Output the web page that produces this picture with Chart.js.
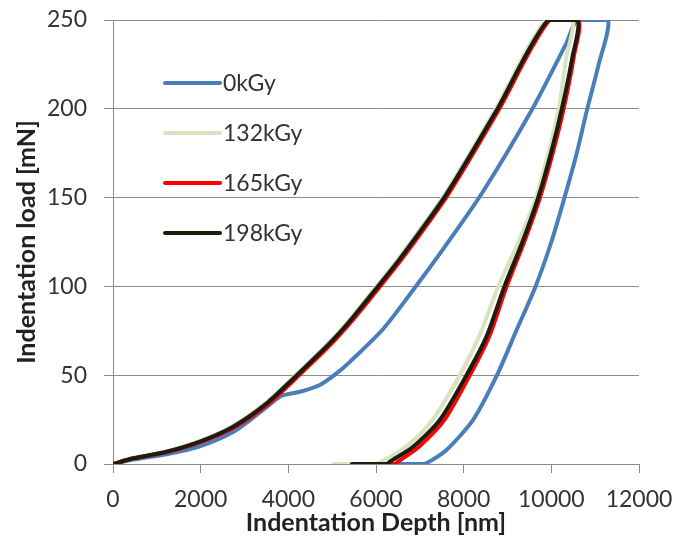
<!DOCTYPE html>
<html>
<head>
<meta charset="utf-8">
<script src="https://cdn.jsdelivr.net/npm/chart.js@4/dist/chart.umd.min.js"></script>
<style>
  html, body { margin:0; padding:0; background:#fff; }
  #wrap { width:688px; height:556px; }
</style>
</head>
<body>
<div id="wrap"><canvas id="chart" width="688" height="556"></canvas></div>
<script>
const seriesNames = ['0kGy', '132kGy', '165kGy', '198kGy'];
const seriesColors = ['#4a7ebb', '#d7e4bd', '#ff0000', '#1e1c11'];

const xTicks = [0, 2000, 4000, 6000, 8000, 10000, 12000];
const yTicks = [0, 50, 100, 150, 200, 250];

// loading -> hold at 250 mN -> unloading, depth in nm, load in mN
const depth0 = [0, 460, 1220, 1980, 2740, 3352, 3600, 3850, 4264, 4720, 5100, 5404, 6163, 6924, 7531, 8406, 9546, 10344, 10600,
                11290, 11080, 10820, 10580, 10300, 10000, 9640, 9200, 8760, 8215, 7608, 7152, 7050, 6400];
const load0  = [0, 2.5, 5.5, 10, 18, 29, 34, 38.5, 40.7, 44.5, 51, 57.5, 76, 100.5, 121, 152, 199, 237, 250,
                250, 225, 200, 175, 150, 125, 100, 75, 50, 24.8, 7.9, 0.4, 0, 0];

const depth132 = [0, 430, 1185, 1945, 2705, 3465, 4075, 4685, 4990, 5370, 5975, 6505, 7570, 8710, 9870,
                  10490, 10340, 10170, 9930, 9650, 9250, 8790, 8350, 7910, 7290, 6780, 6330, 6000, 5024];
const load132  = [0, 3.2, 6.9, 12.6, 21, 34, 48, 62.5, 70, 80.5, 99, 115.5, 152, 199, 250,
                  250, 229, 200, 175, 150, 125, 100, 71.7, 50, 24.8, 11.6, 4.1, 0, 0];

const depth165 = [0, 480, 1260, 2030, 2790, 3550, 4160, 4770, 5070, 5450, 6060, 6590, 7650, 8790, 9960,
                  10620, 10510, 10280, 10030, 9740, 9380, 8980, 8580, 8140, 7560, 6980, 6500, 6430, 5500];
const load165  = [0, 3.2, 6.9, 12.6, 21, 34, 48, 62.5, 70, 80.5, 99, 115.5, 152, 199, 250,
                  250, 229, 200, 175, 150, 125, 100, 71.7, 50, 24.8, 9.7, 1.3, 0, 0];

const depth198 = [0, 460, 1220, 1980, 2740, 3500, 4111, 4720, 5023, 5404, 6012, 6544, 7608, 8748, 9925,
                  10600, 10480, 10240, 9990, 9700, 9340, 8930, 8520, 8064, 7456, 6847, 6316, 6250, 5450];
const load198  = [0, 3.2, 6.9, 12.6, 21, 34, 48, 62.5, 70, 80.5, 99, 115.5, 152, 199, 250,
                  250, 229, 200, 175, 150, 125, 100, 71.7, 50, 24.8, 9.7, 1.3, 0, 0];

const depths = [depth0, depth132, depth165, depth198];
const loads = [load0, load132, load165, load198];

const FONT = 'Lato, Carlito, "DejaVu Sans", sans-serif';
const GRID = '#8c8c8c';
const TEXT = '#333';

function toPoints(xs, ys){
  return xs.map((x, i) => ({x: x, y: ys[i]}));
}

// legend drawn inside the plot, top-left
const insideLegend = {
  id: 'insideLegend',
  afterDatasetsDraw(chart){
    const {ctx, chartArea} = chart;
    const x0 = chartArea.left + 52;
    const y0 = chartArea.top + 63;
    ctx.save();
    chart.data.datasets.forEach((ds, i) => {
      const y = y0 + i * 50;
      ctx.strokeStyle = ds.borderColor;
      ctx.lineWidth = 4;
      ctx.lineCap = 'round';
      ctx.beginPath();
      ctx.moveTo(x0, y);
      ctx.lineTo(x0 + 55, y);
      ctx.stroke();
      ctx.fillStyle = TEXT;
      ctx.font = '23px ' + FONT;
      ctx.textBaseline = 'middle';
      ctx.fillText(ds.label, x0 + 58, y + 1);
    });
    ctx.restore();
  }
};

const datasets = seriesNames.map((name, i) => ({
  label: name,
  data: toPoints(depths[i], loads[i]),
  borderColor: seriesColors[i],
  backgroundColor: seriesColors[i],
  borderWidth: 4,
  borderJoinStyle: 'round',
  borderCapStyle: 'round',
  pointRadius: 0,
  showLine: true,
  fill: false,
  tension: 0.25,
  order: seriesNames.length - i
}));

new Chart(document.getElementById('chart'), {
  type: 'scatter',
  data: {datasets: datasets},
  plugins: [insideLegend],
  options: {
    responsive: false,
    animation: false,
    layout: {padding: {left: 0, right: 49, top: 20, bottom: 0}},
    plugins: {legend: {display: false}, tooltip: {enabled: false}},
    scales: {
      x: {
        type: 'linear', min: 0, max: 12000,
        afterBuildTicks: s => { s.ticks = xTicks.map(v => ({value: v})); },
        afterFit: s => { s.height = 92; s.paddingLeft = 0; s.paddingRight = 0; },
        grid: {drawOnChartArea: false, drawTicks: true, tickLength: 9, color: GRID},
        border: {display: true, color: GRID},
        ticks: {color: TEXT, font: {family: FONT, size: 23}, padding: 13, maxRotation: 0,
                callback: v => String(v)},
        title: {display: true, text: 'Indentation Depth [nm]', color: '#222',
                font: {family: FONT, size: 25, weight: 'bold'}, padding: {top: 0, bottom: 18}}
      },
      y: {
        type: 'linear', min: 0, max: 250,
        afterBuildTicks: s => { s.ticks = yTicks.map(v => ({value: v})); },
        afterFit: s => { s.width = 113; s.paddingTop = 0; s.paddingBottom = 0; },
        grid: {drawOnChartArea: true, drawTicks: true, tickLength: 9, color: GRID},
        border: {display: true, color: GRID},
        ticks: {color: TEXT, font: {family: FONT, size: 23}, padding: 17,
                callback: v => String(v)},
        title: {display: true, text: 'Indentation load [mN]', color: '#222',
                font: {family: FONT, size: 25, weight: 'bold'}, padding: {top: 12, bottom: 0}}
      }
    }
  }
});
</script>
</body>
</html>
